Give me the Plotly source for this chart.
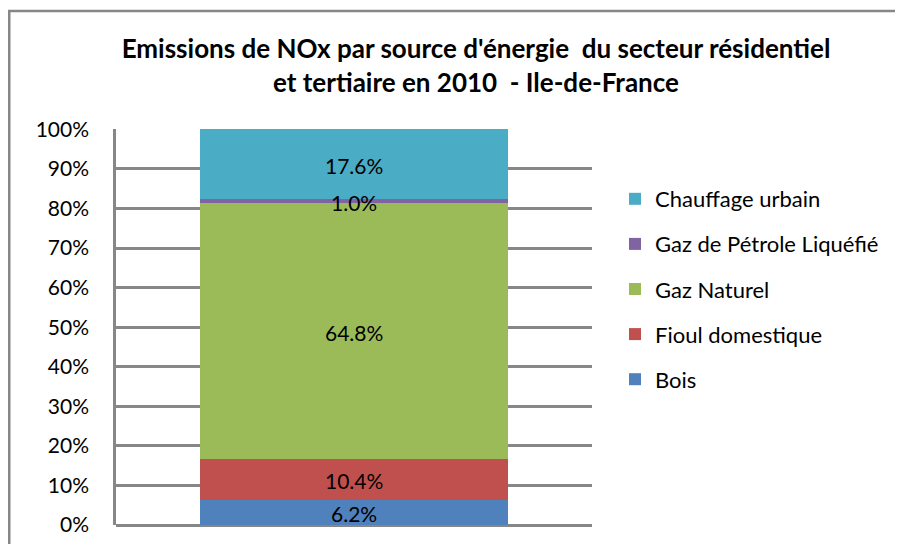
import plotly.graph_objects as go

# Données (part des émissions de NOx, en %)
categorie = ["2010"]
sources = ["Bois", "Fioul domestique", "Gaz Naturel", "Gaz de Pétrole Liquéfié", "Chauffage urbain"]
bois = [6.2]
fioul = [10.4]
gaz_naturel = [64.8]
gpl = [1.0]
chauffage_urbain = [17.6]
couleurs = ["#4F81BD", "#C0504D", "#9BBB59", "#8064A2", "#4BACC6"]

series = [bois, fioul, gaz_naturel, gpl, chauffage_urbain]

POLICE = "Lato"
GRIS = "#878787"

fig = go.Figure()
for i, (nom, valeurs, couleur) in enumerate(zip(sources, series, couleurs)):
    fig.add_trace(go.Bar(
        x=categorie, y=[v / 100 for v in valeurs], name=nom,
        marker_color=couleur, marker_line_width=0,
        legendgroup=nom, legendrank=len(sources) - i,
    ))

# étiquettes au milieu de chaque segment, au-dessus de toutes les barres
# (x = indice de la catégorie sur l'axe catégoriel)
cumul = 0.0
for valeurs in series:
    v = valeurs[0] / 100
    fig.add_annotation(
        x=categorie.index(categorie[0]), xref="x", y=cumul + v / 2, yref="y",
        text=f"{valeurs[0]:.1f}%", showarrow=False, yshift=-1,
        font=dict(family=POLICE, size=21, color="#000000"),
    )
    cumul += v

# la page est décalée de 8 px : coordonnées de la figure = page - 8
# zone de tracé : x 108-584, y 121-517
L, R, T, B = 108, 903 - 584, 121, 544 - 517
W, H = 903 - L - R, 544 - T - B

fig.update_layout(
    template=None, barmode="stack", bargap=0.355,
    width=903, height=544,
    margin=dict(l=L, r=R, t=T, b=B),
    paper_bgcolor="white", plot_bgcolor="white",
    font=dict(family=POLICE, size=21, color="#000000"),
    title=dict(
        text="Emissions de NOx par source d'énergie  du secteur résidentiel<br>et tertiaire en 2010  - Ile-de-France",
        font=dict(family=POLICE, size=26, color="#000000", weight="bold"),
        xref="paper", x=(468 - L) / W, xanchor="center",
        yref="container", y=1 - 50 / 544, yanchor="middle",
    ),
    legend=dict(
        x=(607 - L) / W, xanchor="left", y=(517 - 170) / H, yanchor="top",
        traceorder="grouped", tracegroupgap=13.5,
        font=dict(family=POLICE, size=22, color="#000000"),
        itemwidth=30, bgcolor="rgba(0,0,0,0)",
    ),
    showlegend=True,
    shapes=[dict(
        type="rect", xref="paper", yref="paper",
        x0=(1.25 - L) / W, x1=(930 - L) / W,
        y0=(517 - 580) / H, y1=(517 - 3) / H,
        line=dict(color=GRIS, width=2.5), fillcolor="rgba(0,0,0,0)", layer="below",
    )],
)
fig.update_xaxes(type="category", showticklabels=False, showgrid=False, zeroline=False,
                 showline=False, range=[-0.5, 0.5])
fig.update_yaxes(range=[0, 1.001], dtick=0.1, tickformat=".0%",
                 showgrid=True, gridcolor=GRIS, gridwidth=2.5,
                 zeroline=True, zerolinecolor=GRIS, zerolinewidth=2.5,
                 showline=True, linecolor=GRIS, linewidth=2.5,
                 ticks="", ticklabelstandoff=20,
                 tickfont=dict(family=POLICE, size=21, color="#000000"))

fig.write_html("out.html")
